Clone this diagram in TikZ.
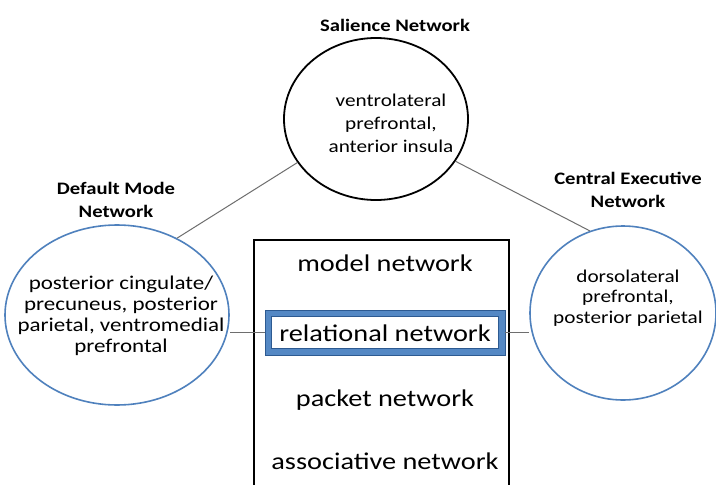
\documentclass[tikz,border=0pt]{standalone}
\usepackage{fontspec}
\setmainfont{Carlito}[FakeStretch=1.18]
\usetikzlibrary{shapes.geometric}
\definecolor{ellblue}{RGB}{79,129,189}
\definecolor{bandblue}{RGB}{84,136,196}
\definecolor{edgeblue}{RGB}{45,90,145}
\definecolor{lngray}{RGB}{110,110,110}
\tikzset{
  net/.style={ellipse, draw=ellblue, line width=1.6pt, inner sep=0pt},
  nettext/.style={align=center, inner sep=0pt},
  netlabel/.style={align=center, font=\fontsize{17.5}{22.5}\selectfont\bfseries, inner sep=0pt},
  layer/.style={font=\fontsize{24}{28}\selectfont, inner sep=0pt},
  conn/.style={draw=lngray, line width=1pt}
}
\begin{document}
\begin{tikzpicture}[x=1pt,y=-1pt]
\useasboundingbox (0,0) rectangle (716,485);
\fill[white] (0,0) rectangle (716,485);
% networks
\node[net, draw=black, line width=1.8pt, minimum width=184pt, minimum height=162pt] (S) at (376,119) {};
\node[nettext, font=\fontsize{18}{23}\selectfont] (St) at (391,123) {ventrolateral\\prefrontal,\\anterior insula};
\node[net, minimum width=224pt, minimum height=180pt] (D) at (117,315) {};
\node[nettext, font=\fontsize{19.5}{21}\selectfont] (Dt) at (121,316) {posterior cingulate/\\precuneus, posterior\\parietal, ventromedial\\prefrontal};
\node[net, minimum width=186pt, minimum height=174pt] (C) at (623,313) {};
\node[nettext, font=\fontsize{18}{20.5}\selectfont] (Ct) at (628,298) {dorsolateral\\prefrontal,\\posterior parietal};
% labels
\node[netlabel] (Sl) at (395,25) {Salience Network};
\node[netlabel] (Dl) at (116,200) {Default Mode\\Network};
\node[netlabel] (Cl) at (628,190) {Central Executive\\Network};
% layer box
\draw[black, line width=1.2pt] (254,240) coordinate (bx) rectangle (509,495);
\node[layer] (m) at (385,263) {model network};
\node[draw=edgeblue, fill=bandblue, line width=0.9pt, minimum width=240pt, minimum height=45pt, inner sep=0pt] (relbox) at (385,332.5) {};
\draw[draw=edgeblue, fill=white, line width=0.9pt] ([shift={(7,7)}]relbox.north west) rectangle ([shift={(-7,-7)}]relbox.south east);
\node[layer] (rel) at (385,333) {relational network};
\node[layer] (p) at (385,400) {packet network};
\node[layer] (a) at (385,461) {associative network};
% connectors
\draw[conn] (S.209) -- (D.52);
\draw[conn] (S.332) -- (C.112);
\draw[conn] (relbox.west) -- (relbox.west -| D.east);
\draw[conn] (relbox.east) -- (relbox.east -| C.west);
\end{tikzpicture}
\end{document}
